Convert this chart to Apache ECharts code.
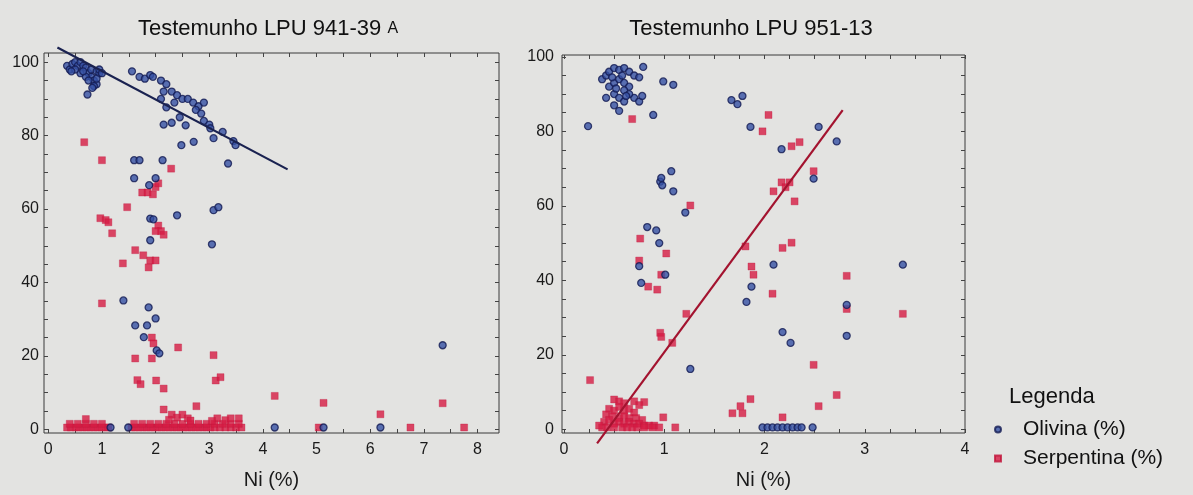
<!DOCTYPE html>
<html><head><meta charset="utf-8">
<script src="https://cdn.jsdelivr.net/npm/echarts@6/dist/echarts.min.js"></script>
<style>html,body{margin:0;padding:0;background:#e3e3e1;}#c{width:1193px;height:495px;}</style>
</head><body><div id="c"></div>
<script>
// ---- Left plot: Testemunho LPU 941-39 A ----
const leftOlivina = [
 [0.35,99],[0.4,98],[0.45,99.5],[0.5,100],[0.55,99],[0.6,100],[0.65,99],[0.7,98.5],[0.75,97],[0.8,96],[0.85,95],[0.9,94],
 [0.6,97],[0.7,96],[0.8,98],[0.9,97.5],[0.95,97],[0.5,98],[0.65,97.5],[0.75,95],[0.85,93.5],[0.95,98],[1.0,97],[0.9,95.5],[0.82,93],
 [0.43,97.5],[0.73,91.2],
 [1.56,97.5],[1.7,96],[1.8,95.5],[1.9,96.5],[1.95,96],
 [2.1,95],[2.2,94],[2.15,92],[2.1,90],[2.2,87.7],
 [2.3,92],[2.4,91],[2.5,90],[2.35,89],[2.45,85],
 [2.6,90],[2.7,89],[2.8,88],[2.9,89],[2.75,87],[2.85,86],
 [2.15,83],[2.3,83.5],[2.56,82.8],[2.9,84],[3.0,83],[3.02,82],[3.25,81],[3.08,79.3],
 [3.45,78.5],[3.49,77.4],[2.48,77.4],[2.71,78.3],[3.35,72.4],
 [1.6,73.3],[1.7,73.3],[2.13,73.3],[1.6,68.4],[2.0,68.4],[1.88,66.5],
 [3.08,59.7],[3.17,60.5],[2.4,58.3],[1.9,57.4],[1.96,57.2],[1.9,51.5],[3.05,50.4],
 [1.4,35.1],[1.87,33.2],[2.0,30.2],[1.62,28.3],[1.84,28.3],[1.78,25.1],[2.02,21.5],[2.07,20.7],
 [7.35,22.9],
 [1.16,0.5],[1.49,0.5],[4.22,0.5],[5.13,0.5],[6.19,0.5]
];
const leftSerpentina = [
 [0.67,78.2],[1.0,73.3],[2.29,71],
 [1.75,64.5],[1.85,64.5],[1.95,64],[2.0,66],[2.05,67],
 [1.47,60.5],[0.97,57.5],[1.07,57],[1.12,56.4],[1.19,53.4],
 [2.05,55.5],[2.1,54],[2.15,53],[2.0,54],
 [1.62,48.8],[1.77,47.4],[1.9,46],[1.87,44.1],[2.0,46],[1.39,45.2],
 [1.0,34.3],[1.93,25],[1.96,23.4],[2.42,22.3],[1.62,19.3],[1.93,19.3],[3.08,20.2],
 [1.66,13.4],[1.72,12.3],[2.01,13.3],[2.15,11.1],[3.12,13.3],[3.21,14.2],
 [4.22,9.1],[5.13,7.2],[2.15,5.4],[2.76,6.3],[6.19,4.1],[7.35,7.1],
 [6.75,0.5],[7.75,0.5],[5.04,0.5],
 [0.35,0.5],[0.42,0.5],[0.5,0.5],[0.57,0.5],[0.64,0.5],[0.71,0.5],[0.78,0.5],[0.85,0.5],[0.92,0.5],[0.99,0.5],[1.06,0.5],[1.12,0.5],
 [1.55,0.5],[1.62,0.5],[1.69,0.5],[1.76,0.5],[1.83,0.5],[1.9,0.5],[1.97,0.5],[2.04,0.5],[2.11,0.5],[2.18,0.5],[2.25,0.5],[2.32,0.5],
 [2.39,0.5],[2.46,0.5],[2.53,0.5],[2.6,0.5],[2.67,0.5],[2.74,0.5],[2.81,0.5],[2.88,0.5],[2.95,0.5],[3.02,0.5],[3.1,0.5],[3.2,0.5],
 [3.3,0.5],[3.4,0.5],[3.5,0.5],[3.6,0.5],
 [0.4,1.5],[0.55,1.5],[0.7,1.5],[0.85,1.5],[1.0,1.5],
 [1.6,1.5],[1.75,1.5],[1.9,1.5],[2.05,1.5],[2.2,1.5],[2.35,1.5],[2.5,1.5],[2.65,1.5],[2.8,1.5],[2.95,1.5],[3.1,1.5],[3.25,1.5],[3.4,1.5],[3.55,1.5],
 [0.7,2.8],[2.3,4],[2.4,3.2],[2.5,4],[2.6,3],[2.65,2.4],[3.15,3],[3.3,2.5],[3.4,3],[3.55,3],[2.25,2.6],[3.05,2.3]
];
const leftTrend = [[0.17,104],[4.46,70.8]];

// ---- Right plot: Testemunho LPU 951-13 ----
const rightOlivina = [
 [0.38,94],[0.42,95],[0.45,96],[0.5,97],[0.55,96.5],[0.6,97],[0.65,96],[0.7,95],[0.75,94.5],
 [0.45,92],[0.5,93],[0.55,94],[0.6,93],[0.65,92],[0.5,90],[0.55,89],[0.6,91],[0.7,89],[0.75,88],
 [0.6,88],[0.5,87],[0.55,85.5],[0.42,89],[0.65,90],[0.48,94.5],[0.58,95],[0.52,91.5],[0.62,89.5],
 [0.79,97.3],[0.78,89.5],[0.89,84.4],[0.99,93.4],[1.09,92.5],[0.24,81.4],
 [1.67,88.4],[1.73,87.3],[1.78,89.5],[1.86,81.2],[2.54,81.2],[2.72,77.3],[2.17,75.2],[2.49,67.3],
 [0.96,66.5],[0.98,65.5],[0.97,67.5],[1.07,69.3],[1.09,63.9],[1.21,58.2],
 [0.83,54.3],[0.92,53.4],[0.95,50],[0.75,43.8],[0.77,39.3],[1.01,41.5],
 [2.09,44.2],[1.87,38.3],[1.82,34.2],[3.38,44.2],[2.82,33.4],[2.82,25.1],[2.18,26.1],[2.26,23.2],[1.26,16.2],
 [1.98,0.5],[2.03,0.5],[2.08,0.5],[2.13,0.5],[2.18,0.5],[2.23,0.5],[2.28,0.5],[2.33,0.5],[2.37,0.5],[2.48,0.5]
];
const rightSerpentina = [
 [0.68,83.3],[2.04,84.4],[1.98,80],[2.27,76],[2.35,77.1],[2.49,69.3],
 [2.09,63.9],[2.17,66.3],[2.25,66.3],[2.21,65],[2.3,61.2],[1.26,60.1],
 [0.76,51.2],[1.02,47.2],[0.75,45.3],[0.97,41.5],[0.84,38.3],[0.93,37.5],
 [1.81,49.1],[1.87,43.7],[1.89,41.5],[2.18,48.7],[2.27,50.1],[2.08,36.4],
 [2.82,41.2],[2.82,32.3],[3.38,31],[1.22,31],[0.96,25.9],[0.97,24.8],[1.08,23.2],
 [2.49,17.3],[0.26,13.2],[2.72,9.2],[1.86,8.1],[0.8,7.3],[1.76,6.2],[1.78,4.3],[1.68,4.3],
 [2.54,6.2],[2.18,3.2],[0.99,3.2],[1.11,0.5],
 [0.5,8],[0.55,7.5],[0.6,7],[0.7,7.5],[0.75,6.5],[0.45,5.5],[0.5,5],[0.55,6],[0.6,5],[0.65,5.5],[0.7,4.5],
 [0.42,4],[0.48,3.5],[0.55,3],[0.6,3.5],[0.65,3],[0.72,3],[0.78,2.5],[0.4,2],[0.45,2.5],[0.5,1.5],
 [0.55,2],[0.6,1.5],[0.65,2],[0.7,1.5],[0.75,1.5],[0.8,1],[0.85,1],[0.9,1],[0.95,0.5],[0.38,0.5],
 [0.43,0.5],[0.5,0.5],[0.58,0.5],[0.63,0.5],[0.68,0.5],[0.73,0.5],[0.8,0.5],[0.88,0.5],[0.35,1]
];
const rightTrend = [[0.33,-3.8],[2.78,85.7]];

// ---- tick labels / tick marks ----
const leftXLabels = [0,1,2,3,4,5,6,7,8];
const rightXLabels = [0,1,2,3,4];
const yLabels = [0,20,40,60,80,100];
const leftXTicks = [0,0.5,1,1.5,2,2.5,3,3.5,4,4.5,5,5.5,6,6.5,7,7.5,8];
const rightXTicks = [0,0.25,0.5,0.75,1,1.25,1.5,1.75,2,2.25,2.5,2.75,3,3.25,3.5,3.75,4];
const yTicks = [0,5,10,15,20,25,30,35,40,45,50,55,60,65,70,75,80,85,90,95,100];

const FONT = '"Liberation Sans", Arial, sans-serif';
const olivinaStyle = {color:'#3550a4', borderColor:'#141b52', borderWidth:1.3};
const serpStyle = {color:'#d61c44', borderColor:'#c0153b', borderWidth:0.4};

function xAxisDef(grid, min, max, labels, ticks){
  return [{
    type:'value', gridIndex:grid, min:min, max:max, position:'bottom',
    name:'Ni (%)', nameLocation:'middle', nameGap:37,
    nameTextStyle:{fontFamily:FONT, fontSize:20, color:'#1a1a1a'},
    axisLine:{show:false, onZero:false}, splitLine:{show:false},
    axisTick:{show:true, inside:true, length:4, lineStyle:{color:'#444'}, customValues:ticks},
    axisLabel:{customValues:labels, margin:9, fontFamily:FONT, fontSize:16, color:'#1a1a1a'}
  },{
    type:'value', gridIndex:grid, min:min, max:max, position:'top',
    axisLine:{show:false, onZero:false}, splitLine:{show:false},
    axisTick:{show:true, inside:true, length:4, lineStyle:{color:'#444'}, customValues:ticks},
    axisLabel:{show:false}
  }];
}
function yAxisDef(grid, min, max, margin){
  return [{
    type:'value', gridIndex:grid, min:min, max:max, position:'left',
    axisLine:{show:false, onZero:false}, splitLine:{show:false},
    axisTick:{show:true, inside:true, length:4, lineStyle:{color:'#444'}, customValues:yTicks},
    axisLabel:{customValues:yLabels, margin:margin, fontFamily:FONT, fontSize:16, color:'#1a1a1a'}
  },{
    type:'value', gridIndex:grid, min:min, max:max, position:'right',
    axisLine:{show:false, onZero:false}, splitLine:{show:false},
    axisTick:{show:true, inside:true, length:4, lineStyle:{color:'#444'}, customValues:yTicks},
    axisLabel:{show:false}
  }];
}

const chart = echarts.init(document.getElementById('c'), null, {renderer:'canvas'});
chart.setOption({
  backgroundColor:'#e3e3e1',
  animation:false,
  title:[
    {text:'Testemunho LPU 941-39 {s|A}', left:263, top:13, textAlign:'center',
     textStyle:{fontFamily:FONT, fontSize:22, fontWeight:'normal', color:'#111',
       rich:{s:{fontFamily:FONT, fontSize:16, color:'#111'}}}},
    {text:'Testemunho LPU 951-13', left:746, top:13, textAlign:'center',
     textStyle:{fontFamily:FONT, fontSize:22, fontWeight:'normal', color:'#111'}},
    {text:'Legenda', left:1004, top:381,
     textStyle:{fontFamily:FONT, fontSize:22, fontWeight:'normal', color:'#111'}}
  ],
  legend:{
    data:['Olivina (%)','Serpentina (%)'], orient:'vertical', left:989, top:414,
    itemWidth:6, itemHeight:6, itemGap:8,
    textStyle:{fontFamily:FONT, fontSize:21, color:'#111', lineHeight:21, padding:[0,0,0,17]}
  },
  grid:[
    {left:44, top:53, width:455, height:380, show:true, borderColor:'#3a3a3a', borderWidth:1, backgroundColor:'transparent'},
    {left:562, top:55, width:403, height:378, show:true, borderColor:'#3a3a3a', borderWidth:1, backgroundColor:'transparent'}
  ],
  xAxis:[].concat(xAxisDef(0,-0.08,8.4,leftXLabels,leftXTicks), xAxisDef(1,-0.02,4,rightXLabels,rightXTicks)),
  yAxis:[].concat(yAxisDef(0,-1,102.5,5), yAxisDef(1,-1,100.5,8)),
  series:[
    {name:'Serpentina (%)', type:'scatter', xAxisIndex:0, yAxisIndex:0, data:leftSerpentina, symbol:'rect', symbolSize:7, itemStyle:serpStyle},
    {name:'Olivina (%)', type:'scatter', xAxisIndex:0, yAxisIndex:0, data:leftOlivina, symbol:'circle', symbolSize:7, itemStyle:olivinaStyle},
    {type:'line', xAxisIndex:0, yAxisIndex:0, data:leftTrend, symbol:'none', clip:false, silent:true,
     lineStyle:{color:'#1a2250', width:2.2}},
    {name:'Serpentina (%)', type:'scatter', xAxisIndex:2, yAxisIndex:2, data:rightSerpentina, symbol:'rect', symbolSize:7, itemStyle:serpStyle},
    {name:'Olivina (%)', type:'scatter', xAxisIndex:2, yAxisIndex:2, data:rightOlivina, symbol:'circle', symbolSize:7, itemStyle:olivinaStyle},
    {type:'line', xAxisIndex:2, yAxisIndex:2, data:rightTrend, symbol:'none', clip:false, silent:true,
     lineStyle:{color:'#a3132f', width:2.2}}
  ]
});
</script>
</body></html>
